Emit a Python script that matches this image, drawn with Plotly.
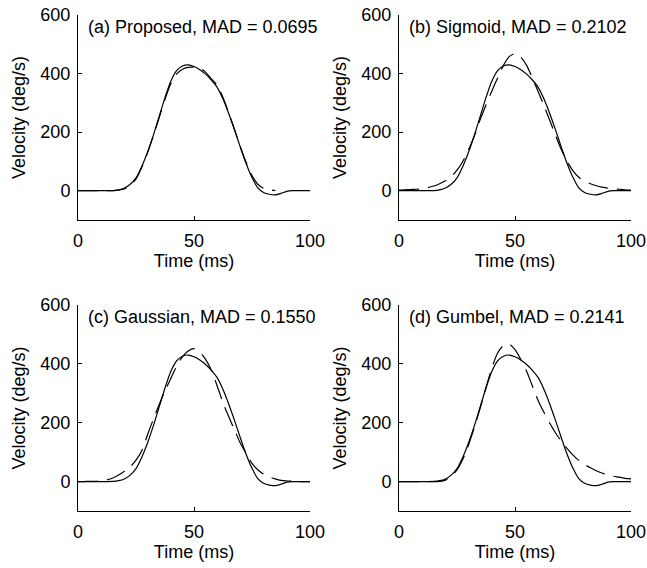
import plotly.graph_objects as go

# ---------------- data ----------------
time_ms = [0, 2.5, 5, 7.5, 10, 12.5, 15, 17.5, 20, 22.5, 25, 27.5, 30, 32.5, 35, 37.5,
           40, 42.5, 45, 47.5, 50, 52.5, 55, 57.5, 60, 62.5, 65, 67.5, 70, 72.5, 75,
           77.5, 80, 82.5, 85, 87.5, 90, 92.5, 95, 97.5, 100]

# measured velocity (solid line, same in every panel)
measured = [0, 0, 0, 0, 0, 0, 0.5, 3, 9, 22, 44, 83, 132, 190, 254, 318,
            374, 410, 426, 430, 424, 413, 398, 378, 353, 313, 263, 207, 148, 92, 45,
            10, -6, -12, -14, -9, -2, 0, 0, 0, 0]

# fitted profiles (dashed lines)
time_proposed = [0, 2.5, 5, 7.5, 10, 12.5, 15, 17.5, 20, 22.5, 25, 27.5, 30, 32.5, 35, 37.5,
                 40, 42.5, 45, 47.5, 50, 52.5, 55, 57.5, 60, 62.5, 65, 67.5, 70, 72.5, 75,
                 77.5, 80, 82.5, 85]
proposed = [0, 0, 0, 0, 0, 0, 0.3, 2, 6, 17, 40, 80, 130, 188, 250, 312,
            365, 398, 415, 421, 422, 418, 405, 382, 360, 318, 265, 208, 150, 96, 52,
            22, 8, 3, 1]
sigmoid = [2, 3, 4, 5, 7, 11, 16, 24, 34, 48, 70, 100, 140, 188, 243, 293,
           340, 385, 428, 458, 468, 456, 428, 385, 338, 290, 240, 188, 140, 100, 68,
           46, 33, 24, 17, 12, 9, 6, 5, 3, 2]
gaussian = [0, 0, 1, 1, 3, 6, 12, 22, 35, 50, 73, 105, 160, 212, 262, 308,
            350, 392, 424, 444, 452, 440, 415, 378, 325, 268, 220, 175, 130, 95, 62,
            40, 25, 16, 9, 4, 2, 1, 0, 0, 0]
gumbel = [0, 0, 0, 0, 0, 0, 0, 1, 5, 18, 40, 76, 125, 185, 250, 320,
          385, 437, 462, 467, 448, 415, 375, 325, 275, 235, 198, 165, 137, 112, 90,
          72, 58, 47, 37, 29, 23, 18, 15, 11, 9]

panel_labels = ["(a) Proposed, MAD = 0.0695", "(b) Sigmoid, MAD = 0.2102",
                "(c) Gaussian, MAD = 0.1550", "(d) Gumbel, MAD = 0.2141"]
x_ticks = [0, 50, 100]
y_ticks = [0, 200, 400, 600]
x_title = "Time (ms)"
y_title = "Velocity (deg/s)"

# ---------------- figure ----------------
W, H = 647, 568
FONT = "Liberation Sans, Arial, Helvetica, sans-serif"
FS = 18

fits = [(time_proposed, proposed), (time_ms, sigmoid), (time_ms, gaussian), (time_ms, gumbel)]

# panel boxes in pixels: (left, right, top, bottom)
boxes = [(78, 310, 15, 220), (399, 631, 15, 220), (78, 310, 305, 511), (399, 631, 305, 511)]

fig = go.Figure()
layout = dict(width=W, height=H, paper_bgcolor="white", plot_bgcolor="white",
              margin=dict(l=0, r=0, t=0, b=0), showlegend=False,
              font=dict(family=FONT, size=FS, color="black"), annotations=[])

for i, ((tf, vf), (l, r, t, b), lab) in enumerate(zip(fits, boxes, panel_labels)):
    n = "" if i == 0 else str(i + 1)
    xa, ya = "x" + n, "y" + n
    fig.add_trace(go.Scatter(x=time_ms, y=measured, mode="lines", xaxis=xa, yaxis=ya,
                             line=dict(color="black", width=1.2, shape="spline", smoothing=0.8)))
    fig.add_trace(go.Scatter(x=tf, y=vf, mode="lines", xaxis=xa, yaxis=ya,
                             line=dict(color="black", width=1.2, dash="20px,9px",
                                       shape="spline", smoothing=0.8)))
    layout["xaxis" + n] = dict(
        domain=[l / W, r / W], anchor=ya, range=[0, 100], tickvals=x_ticks,
        ticks="inside", ticklen=4, tickcolor="black", showline=True, linecolor="black",
        linewidth=1, showgrid=False, zeroline=False, ticklabelstandoff=4,
        tickfont=dict(family=FONT, size=FS, color="black"),
        title=dict(text=x_title, font=dict(family=FONT, size=FS, color="black"), standoff=0),
        automargin=False)
    layout["yaxis" + n] = dict(
        domain=[1 - b / H, 1 - t / H], anchor=xa, range=[-100, 600], tickvals=y_ticks,
        ticks="inside", ticklen=4, tickcolor="black", showline=True, linecolor="black",
        linewidth=1, showgrid=False, zeroline=False, ticklabelstandoff=3,
        tickfont=dict(family=FONT, size=FS, color="black"),
        title=dict(text=y_title, font=dict(family=FONT, size=FS, color="black"), standoff=10),
        automargin=False)
    layout["annotations"].append(dict(text=lab, x=3.5, y=560, xref=xa, yref=ya,
                                      xanchor="left", yanchor="middle", showarrow=False,
                                      font=dict(family=FONT, size=FS, color="black")))

fig.update_layout(**layout)
fig.write_html("out.html", config={"displayModeBar": False},
               post_script="document.body.style.margin='0';")
